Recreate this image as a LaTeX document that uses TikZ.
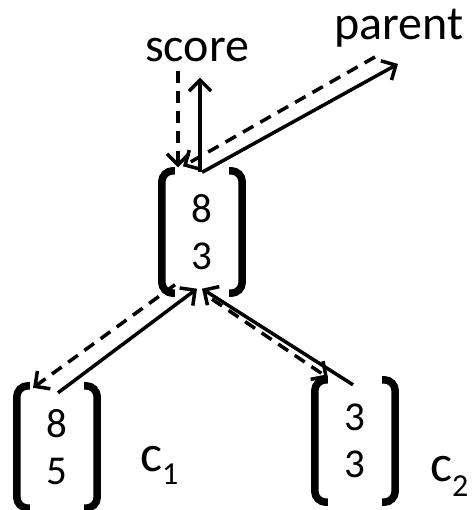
\documentclass[tikz,border=0pt]{standalone}
\usepackage{fontspec}
\setmainfont{Carlito}
\usetikzlibrary{arrows.meta,positioning}

\tikzset{
	mat/.style={minimum width=80pt, minimum height=122pt, inner sep=0pt, align=center, on grid, font=\fontsize{41}{47}\selectfont},
	brack/.style={line width=7.5pt, rounded corners=11pt},
	lab/.style={inner sep=0pt, font=\fontsize{48}{52}\selectfont},
	up/.style={line width=3.5pt, -{Straight Barb[length=11pt,width=22pt]}},
	down/.style={up, dash pattern=on 12pt off 8pt}
}

\begin{document}
\begin{tikzpicture}[x=1pt, y=-1pt]
	\useasboundingbox (0,0) rectangle (473,510);
	\node[mat] (m0) at (202,232) {8\\3};
	\node[mat, below left=215pt and 145pt of m0] (m1) {8\\5};
	\node[mat, below right=209pt and 153pt of m0] (m2) {3\\3};
	\node[lab, anchor=base] (s) at (197,62) {score};
	\node[lab, anchor=base] (p) at (399,40) {parent};
	\node[lab, anchor=base west] (c1) at (140,471) {\fontsize{52}{52}\selectfont c\raisebox{-13pt}{\fontsize{32}{32}\selectfont 1}};
	\node[lab, anchor=base west] (c2) at (430,481) {\fontsize{52}{52}\selectfont c\raisebox{-15pt}{\fontsize{32}{32}\selectfont 2}};
	\foreach \m in {m0,m1,m2}{
		\draw[brack] ([xshift=13pt]\m.north west) -- (\m.north west) -- (\m.south west) -- ([xshift=13pt]\m.south west);
		\draw[brack] ([xshift=-13pt]\m.north east) -- (\m.north east) -- (\m.south east) -- ([xshift=-13pt]\m.south east);
	}
	\draw[down] ([shift={(-19,8)}]s.south) -- ([shift={(-24,-3.5)}]m0.north);
	\draw[up] ([shift={(-2,1.5)}]m0.north) -- ([shift={(3,15)}]s.south);
	\draw[up] ([shift={(0,1.5)}]m0.north) -- ([shift={(-1,16)}]p.south);
	\draw[down] ([shift={(-24,9)}]p.south) -- ([shift={(-19,-4.5)}]m0.north);
	\draw[up] ([shift={(1,7)}]m1.north) -- ([shift={(-5,-4.5)}]m0.south);
	\draw[down] ([shift={(-27,-8.5)}]m0.south) -- ([shift={(-24,2)}]m1.north);
	\draw[up] ([shift={(-2,5)}]m2.north) -- ([shift={(0,-4.5)}]m0.south);
	\draw[down] ([shift={(10,6)}]m0.south) -- ([shift={(-27,-2)}]m2.north);
\end{tikzpicture}
\end{document}
